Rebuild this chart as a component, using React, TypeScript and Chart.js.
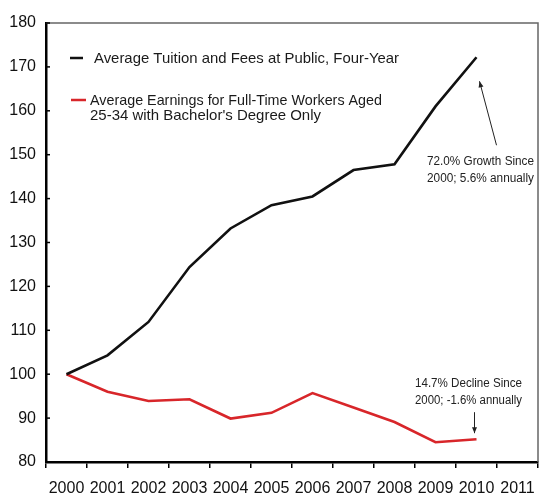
import React, { useEffect, useRef } from "react";
import { Chart, registerables } from "chart.js";

Chart.register(...registerables);

const years = ["2000", "2001", "2002", "2003", "2004", "2005", "2006", "2007", "2008", "2009", "2010", "2011"];
const tuition = [100, 104.3, 111.9, 124.4, 133.2, 138.5, 140.5, 146.5, 147.8, 161, 172.2, null];
const earnings = [100, 96, 93.9, 94.3, 89.9, 91.2, 95.7, 92.4, 89.1, 84.5, 85.2, null];
const tuitionLabel = "Average Tuition and Fees at Public, Four-Year";
const earningsLabel = ["Average Earnings for Full-Time Workers Aged", "25-34 with Bachelor's Degree Only"];
const growthNote = ["72.0% Growth Since", "2000; 5.6% annually"];
const declineNote = ["14.7% Decline Since", "2000; -1.6% annually"];

const BLACK = "#111111";
const RED = "#d8262a";
const FONT = "'Liberation Sans', Arial, sans-serif";

function arrow(ctx: CanvasRenderingContext2D, x1: number, y1: number, x2: number, y2: number) {
  ctx.save();
  ctx.strokeStyle = "#222";
  ctx.fillStyle = "#222";
  ctx.lineWidth = 1;
  ctx.beginPath();
  ctx.moveTo(x1, y1);
  ctx.lineTo(x2, y2);
  ctx.stroke();
  const ang = Math.atan2(y2 - y1, x2 - x1);
  const len = 6;
  const w = 2.5;
  ctx.beginPath();
  ctx.moveTo(x2, y2);
  ctx.lineTo(x2 - len * Math.cos(ang) + w * Math.sin(ang), y2 - len * Math.sin(ang) - w * Math.cos(ang));
  ctx.lineTo(x2 - len * Math.cos(ang) - w * Math.sin(ang), y2 - len * Math.sin(ang) + w * Math.cos(ang));
  ctx.closePath();
  ctx.fill();
  ctx.restore();
}

function fitText(ctx: CanvasRenderingContext2D, text: string, x: number, y: number, width: number, align: "left" | "center") {
  const m = ctx.measureText(text).width;
  const s = width / m;
  ctx.save();
  ctx.translate(x, y);
  ctx.scale(s, 1);
  ctx.textAlign = align;
  ctx.fillText(text, 0, 0);
  ctx.restore();
}

const decorPlugin = {
  id: "decor",
  afterDatasetsDraw(chart: any) {
    const { ctx, chartArea, scales } = chart;
    const xs = scales.x;
    const ys = scales.y;
    ctx.save();
    // frame top and right
    ctx.strokeStyle = "#666";
    ctx.lineWidth = 1.5;
    ctx.beginPath();
    ctx.moveTo(chartArea.left, chartArea.top);
    ctx.lineTo(chartArea.right, chartArea.top);
    ctx.lineTo(chartArea.right, chartArea.bottom);
    ctx.stroke();
    // inside y ticks
    ctx.strokeStyle = "#000";
    ctx.lineWidth = 1.5;
    ys.ticks.forEach((t: any) => {
      const y = ys.getPixelForValue(t.value);
      ctx.beginPath();
      ctx.moveTo(chartArea.left, y);
      ctx.lineTo(chartArea.left + 4, y);
      ctx.stroke();
    });
    // legend
    const L = chartArea.left;
    const T = chartArea.top;
    ctx.lineWidth = 2.5;
    ctx.strokeStyle = BLACK;
    ctx.beginPath();
    ctx.moveTo(L + 24, T + 35);
    ctx.lineTo(L + 37, T + 35);
    ctx.stroke();
    ctx.strokeStyle = RED;
    ctx.beginPath();
    ctx.moveTo(L + 25, T + 77);
    ctx.lineTo(L + 40, T + 77);
    ctx.stroke();
    ctx.fillStyle = "#1a1a1a";
    ctx.font = `15px ${FONT}`;
    ctx.textBaseline = "middle";
    fitText(ctx, tuitionLabel, L + 48, T + 36, 305, "left");
    fitText(ctx, earningsLabel[0], L + 44, T + 78, 292, "left");
    fitText(ctx, earningsLabel[1], L + 44, T + 93, 231, "left");
    // annotations
    const x10 = xs.getPixelForValue(10);
    const yT = ys.getPixelForValue(tuition[10] as number);
    const yE = ys.getPixelForValue(earnings[10] as number);
    ctx.font = `12px ${FONT}`;
    ctx.fillStyle = "#222";
    fitText(ctx, growthNote[0], x10 + 4, yT + 104, 107, "center");
    fitText(ctx, growthNote[1], x10 + 4, yT + 121, 107, "center");
    arrow(ctx, x10 + 20, yT + 88, x10 + 3, yT + 24);
    fitText(ctx, declineNote[0], x10 - 8, yE - 55, 107, "center");
    fitText(ctx, declineNote[1], x10 - 8, yE - 38, 107, "center");
    arrow(ctx, x10 - 2, yE - 27, x10 - 2, yE - 6);
    ctx.restore();
  },
};

export default function App() {
  const ref = useRef<HTMLCanvasElement | null>(null);
  useEffect(() => {
    if (!ref.current) return;
    const chart = new Chart(ref.current, {
      type: "line",
      data: {
        labels: years,
        datasets: [
          { label: tuitionLabel, data: tuition, borderColor: BLACK, borderWidth: 2.6, pointRadius: 0, tension: 0, fill: false },
          { label: earningsLabel.join(" "), data: earnings, borderColor: RED, borderWidth: 2.6, pointRadius: 0, tension: 0, fill: false },
        ],
      },
      options: {
        responsive: false,
        animation: false,
        layout: { padding: { top: 23, right: 1, left: 0, bottom: 0 } },
        plugins: { legend: { display: false }, tooltip: { enabled: false } },
        scales: {
          x: {
            offset: true,
            grid: { display: true, offset: true, drawOnChartArea: false, drawTicks: true, tickLength: 6, color: "#000", lineWidth: 1.5 },
            border: { color: "#000", width: 2.5 },
            ticks: { color: "#111", font: { size: 16, family: FONT }, padding: 11, maxRotation: 0, autoSkip: false },
            afterFit: (s: any) => { s.height = 35; s.paddingLeft = 0; s.paddingRight = 0; },
          },
          y: {
            min: 80,
            max: 180,
            grid: { display: false, drawTicks: false },
            border: { color: "#000", width: 2.5 },
            ticks: { stepSize: 10, color: "#111", font: { size: 16, family: FONT }, padding: 10 },
            afterFit: (s: any) => { s.width = 46; s.paddingTop = 0; s.paddingBottom = 0; },
          },
        },
      },
      plugins: [decorPlugin],
    });
    return () => chart.destroy();
  }, []);
  return (
    <div style={{ position: "absolute", left: 0, top: 0, width: 539, height: 497, background: "#fff" }}>
      <canvas ref={ref} width={539} height={497} style={{ width: 539, height: 497 }} />
    </div>
  );
}
